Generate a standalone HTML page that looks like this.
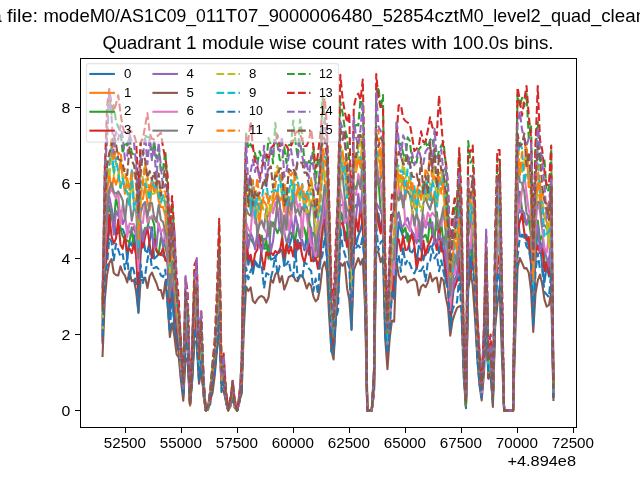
<!DOCTYPE html>
<html lang="en"><head><meta charset="utf-8"><title>Quadrant 1 module wise count rates</title>
<style>html,body{margin:0;padding:0;background:#fff;overflow:hidden}body{width:640px;height:480px;font-family:"Liberation Sans",sans-serif}svg{display:block;will-change:transform}text{font-family:"Liberation Sans",sans-serif;fill:#000}.ln{fill:none;stroke-width:2.083;stroke-linejoin:round}.so{stroke-linecap:square}.da{stroke-linecap:butt;stroke-dasharray:7.71 3.33}.tk{stroke:#000;stroke-width:1;fill:none;shape-rendering:crispEdges}</style></head><body>
<svg width="640" height="480" viewBox="0 0 640 480">
<rect x="0" y="0" width="640" height="480" fill="#ffffff"/>
<text y="22.30" font-size="17.80"><tspan x="-38.10" textLength="39.83" lengthAdjust="spacingAndGlyphs">Data</tspan> <tspan x="7.03" textLength="31.07" lengthAdjust="spacingAndGlyphs">file:</tspan> <tspan x="43.40" textLength="61.72" lengthAdjust="spacingAndGlyphs">modeM</tspan><tspan x="105.12" textLength="48.86" lengthAdjust="spacingAndGlyphs">0/AS1</tspan><tspan x="153.99" textLength="51.84" lengthAdjust="spacingAndGlyphs">C09_0</tspan><tspan x="205.83" textLength="52.66" lengthAdjust="spacingAndGlyphs">11T07</tspan><tspan x="258.49" textLength="50.81" lengthAdjust="spacingAndGlyphs">_9000</tspan><tspan x="309.30" textLength="53.08" lengthAdjust="spacingAndGlyphs">00648</tspan><tspan x="362.38" textLength="50.81" lengthAdjust="spacingAndGlyphs">0_528</tspan><tspan x="413.19" textLength="45.71" lengthAdjust="spacingAndGlyphs">54czt</tspan><tspan x="458.90" textLength="48.27" lengthAdjust="spacingAndGlyphs">M0_le</tspan><tspan x="507.17" textLength="43.75" lengthAdjust="spacingAndGlyphs">vel2_</tspan><tspan x="550.92" textLength="50.31" lengthAdjust="spacingAndGlyphs">quad_</tspan><tspan x="601.23" textLength="44.88" lengthAdjust="spacingAndGlyphs">clean</tspan><tspan x="646.11" textLength="31.99" lengthAdjust="spacingAndGlyphs">.evt</tspan></text>
<text y="48.90" font-size="17.80"><tspan x="102.41" textLength="51.20" lengthAdjust="spacingAndGlyphs">Quadr</tspan><tspan x="153.62" textLength="27.23" lengthAdjust="spacingAndGlyphs">ant</tspan> <tspan x="186.13" textLength="10.58" lengthAdjust="spacingAndGlyphs">1</tspan> <tspan x="201.99" textLength="62.31" lengthAdjust="spacingAndGlyphs">module</tspan> <tspan x="269.59" textLength="37.11" lengthAdjust="spacingAndGlyphs">wise</tspan> <tspan x="311.98" textLength="46.89" lengthAdjust="spacingAndGlyphs">count</tspan> <tspan x="364.15" textLength="42.44" lengthAdjust="spacingAndGlyphs">rates</tspan> <tspan x="411.87" textLength="35.27" lengthAdjust="spacingAndGlyphs">with</tspan> <tspan x="452.41" textLength="56.25" lengthAdjust="spacingAndGlyphs">100.0s</tspan> <tspan x="513.95" textLength="39.64" lengthAdjust="spacingAndGlyphs">bins.</tspan></text>
<g>
<polyline class="ln so" stroke="#1f77b4" points="102.55,343.32 104.79,267.91 107.03,242.78 109.27,231.96 111.52,208.94 113.76,221.10 116.00,234.79 118.25,232.80 120.49,228.58 122.73,229.17 124.98,234.96 127.22,259.91 129.46,242.17 131.71,245.66 133.95,235.32 136.19,250.24 138.44,302.29 140.68,253.74 142.92,233.20 145.17,250.60 147.41,252.09 149.65,241.60 151.90,227.28 154.14,258.65 156.38,256.79 158.63,253.57 160.87,253.12 163.11,255.73 165.36,257.91 167.60,262.57 169.84,315.06 172.09,293.42 174.33,322.73 176.57,343.98 178.82,352.06 181.06,370.61 183.30,397.25 185.55,332.98 187.79,349.11 190.03,404.11 192.28,378.49 194.52,327.48 196.76,333.86 199.01,379.07 201.25,360.88 203.49,389.74 205.74,410.40 207.98,409.05 210.22,398.63 212.47,381.34 214.71,368.46 216.95,338.79 219.20,299.71 221.44,379.08 223.68,371.85 225.93,401.74 228.17,410.40 230.41,403.79 232.66,390.97 234.90,407.06 237.14,410.40 239.39,401.66 241.63,383.93 243.87,295.66 246.12,245.79 248.36,264.77 250.60,255.03 252.85,273.67 255.09,261.06 257.33,266.35 259.58,267.42 261.82,244.89 264.06,248.17 266.31,248.49 268.55,245.57 270.79,259.66 273.04,258.69 275.28,257.35 277.52,253.55 279.77,249.12 282.01,250.47 284.25,265.84 286.50,246.02 288.74,247.59 290.98,240.16 293.23,230.99 295.47,257.94 297.71,239.96 299.96,248.58 302.20,240.11 304.44,250.32 306.69,236.10 308.93,254.73 311.17,236.08 313.42,261.47 315.66,259.75 317.90,263.16 320.15,264.67 322.39,228.69 324.63,225.20 326.88,255.96 329.12,292.47 331.36,337.26 333.60,352.46 335.85,315.47 338.09,283.72 340.33,212.20 342.58,219.51 344.82,240.54 347.06,231.97 349.31,257.38 351.55,306.91 353.79,223.02 356.04,244.69 358.28,235.73 360.52,230.22 362.77,219.56 365.01,279.48 367.25,410.40 369.50,410.40 371.74,410.40 373.98,391.61 376.23,212.67 378.47,213.71 380.71,229.09 382.96,227.43 385.20,317.67 387.44,358.18 389.69,319.29 391.93,285.74 394.17,298.93 396.42,255.58 398.66,222.17 400.90,230.16 403.15,237.29 405.39,237.84 407.63,233.41 409.88,251.15 412.12,252.46 414.36,247.91 416.61,262.20 418.85,245.72 421.09,249.30 423.34,260.14 425.58,251.07 427.82,252.63 430.07,246.29 432.31,246.48 434.55,239.76 436.80,240.61 439.04,253.32 441.28,239.56 443.53,253.77 445.77,281.98 448.01,276.53 450.26,328.14 452.50,299.49 454.74,279.09 456.99,275.04 459.23,261.02 461.47,289.39 463.72,367.19 465.96,408.17 468.20,241.46 470.45,268.17 472.69,243.97 474.93,288.71 477.18,346.52 479.42,366.83 481.66,393.58 483.91,351.81 486.15,312.47 488.39,371.45 490.64,370.93 492.88,403.78 495.12,310.87 497.37,268.36 499.61,267.62 501.85,326.45 504.10,410.40 506.34,410.40 508.58,410.40 510.83,410.40 513.07,410.40 515.31,287.80 517.56,211.66 519.80,236.19 522.04,236.69 524.29,235.06 526.53,234.90 528.77,247.49 531.02,257.09 533.26,307.20 535.50,257.82 537.75,227.83 539.99,242.05 542.23,267.50 544.48,282.09 546.72,265.67 548.96,276.58 551.21,249.09 553.45,396.33"/>
<polyline class="ln so" stroke="#ff7f0e" points="102.55,316.52 104.79,230.92 107.03,192.13 109.27,173.29 111.52,190.38 113.76,176.93 116.00,184.81 118.25,177.54 120.49,160.11 122.73,176.82 124.98,193.74 127.22,178.19 129.46,189.92 131.71,176.60 133.95,202.36 136.19,200.19 138.44,230.67 140.68,198.42 142.92,199.07 145.17,185.27 147.41,201.87 149.65,210.55 151.90,183.69 154.14,182.57 156.38,184.96 158.63,200.68 160.87,207.08 163.11,207.15 165.36,215.55 167.60,245.63 169.84,284.54 172.09,230.33 174.33,277.50 176.57,320.15 178.82,332.62 181.06,359.23 183.30,387.50 185.55,307.15 187.79,329.19 190.03,402.83 192.28,349.35 194.52,302.50 196.76,284.81 199.01,368.17 201.25,331.26 203.49,384.89 205.74,410.40 207.98,407.89 210.22,391.71 212.47,382.70 214.71,355.70 216.95,322.80 219.20,258.00 221.44,379.21 223.68,367.65 225.93,397.39 228.17,410.40 230.41,400.56 232.66,391.35 234.90,403.07 237.14,410.40 239.39,393.51 241.63,379.13 243.87,272.51 246.12,203.34 248.36,197.94 250.60,206.12 252.85,197.09 255.09,197.63 257.33,203.61 259.58,223.65 261.82,200.22 264.06,201.14 266.31,205.19 268.55,216.00 270.79,211.56 273.04,201.16 275.28,198.85 277.52,192.01 279.77,200.83 282.01,196.13 284.25,211.77 286.50,190.58 288.74,210.21 290.98,217.08 293.23,180.60 295.47,202.79 297.71,188.53 299.96,196.59 302.20,189.91 304.44,211.61 306.69,195.61 308.93,199.57 311.17,204.23 313.42,196.76 315.66,203.94 317.90,218.48 320.15,196.39 322.39,154.42 324.63,180.78 326.88,187.07 329.12,249.33 331.36,309.22 333.60,323.96 335.85,266.87 338.09,259.73 340.33,170.60 342.58,173.33 344.82,162.71 347.06,181.24 349.31,199.79 351.55,272.71 353.79,168.31 356.04,172.01 358.28,157.95 360.52,167.89 362.77,133.69 365.01,218.50 367.25,410.40 369.50,410.40 371.74,410.40 373.98,380.15 376.23,161.50 378.47,152.48 380.71,148.18 382.96,179.80 385.20,288.30 387.44,340.48 389.69,283.29 391.93,257.59 394.17,258.61 396.42,156.15 398.66,187.47 400.90,190.27 403.15,177.09 405.39,199.27 407.63,183.10 409.88,179.85 412.12,187.41 414.36,207.67 416.61,211.20 418.85,189.78 421.09,199.75 423.34,187.82 425.58,192.18 427.82,199.80 430.07,187.44 432.31,203.04 434.55,192.28 436.80,203.81 439.04,177.70 441.28,183.53 443.53,182.69 445.77,207.93 448.01,240.12 450.26,292.27 452.50,264.19 454.74,234.19 456.99,238.19 459.23,205.80 461.47,233.63 463.72,358.22 465.96,403.60 468.20,194.65 470.45,227.26 472.69,216.22 474.93,234.05 477.18,335.10 479.42,373.72 481.66,394.17 483.91,336.16 486.15,267.95 488.39,361.76 490.64,354.81 492.88,399.05 495.12,271.20 497.37,222.54 499.61,187.26 501.85,297.36 504.10,410.40 506.34,410.40 508.58,410.40 510.83,410.40 513.07,410.40 515.31,242.16 517.56,180.09 519.80,172.64 522.04,162.45 524.29,168.73 526.53,147.97 528.77,185.22 531.02,186.15 533.26,283.47 535.50,207.72 537.75,183.26 539.99,181.58 542.23,207.73 544.48,216.90 546.72,221.97 548.96,228.56 551.21,204.25 553.45,389.30"/>
<polyline class="ln so" stroke="#2ca02c" points="102.55,326.09 104.79,253.27 107.03,215.89 109.27,206.07 111.52,217.87 113.76,223.55 116.00,197.68 118.25,208.37 120.49,229.16 122.73,236.09 124.98,239.54 127.22,240.45 129.46,242.34 131.71,227.29 133.95,248.17 136.19,250.57 138.44,277.72 140.68,240.51 142.92,233.53 145.17,227.85 147.41,228.04 149.65,217.58 151.90,217.37 154.14,224.46 156.38,250.82 158.63,254.61 160.87,237.80 163.11,242.44 165.36,246.75 167.60,256.98 169.84,302.01 172.09,291.78 174.33,296.82 176.57,320.38 178.82,328.93 181.06,359.91 183.30,392.44 185.55,320.96 187.79,335.00 190.03,402.97 192.28,370.09 194.52,328.63 196.76,310.42 199.01,369.31 201.25,359.42 203.49,386.99 205.74,410.40 207.98,408.25 210.22,397.31 212.47,386.27 214.71,366.53 216.95,329.71 219.20,297.44 221.44,374.60 223.68,382.26 225.93,400.75 228.17,409.58 230.41,406.37 232.66,390.15 234.90,405.89 237.14,410.40 239.39,400.53 241.63,382.82 243.87,286.56 246.12,232.73 248.36,235.05 250.60,238.66 252.85,242.58 255.09,246.75 257.33,237.85 259.58,244.72 261.82,235.71 264.06,248.62 266.31,240.43 268.55,258.65 270.79,225.80 273.04,222.34 275.28,227.32 277.52,233.10 279.77,226.97 282.01,234.40 284.25,258.05 286.50,247.72 288.74,235.25 290.98,232.66 293.23,237.26 295.47,238.84 297.71,224.61 299.96,237.50 302.20,223.52 304.44,229.07 306.69,240.04 308.93,218.49 311.17,233.88 313.42,232.79 315.66,240.84 317.90,257.07 320.15,245.90 322.39,235.45 324.63,201.94 326.88,221.00 329.12,287.36 331.36,333.19 333.60,339.88 335.85,288.81 338.09,279.50 340.33,211.67 342.58,219.26 344.82,204.60 347.06,225.98 349.31,250.54 351.55,298.86 353.79,208.44 356.04,205.12 358.28,204.51 360.52,206.75 362.77,216.76 365.01,282.86 367.25,410.40 369.50,410.40 371.74,410.40 373.98,391.51 376.23,185.28 378.47,180.62 380.71,210.72 382.96,217.96 385.20,304.27 387.44,353.14 389.69,311.95 391.93,268.64 394.17,273.69 396.42,218.84 398.66,212.32 400.90,223.56 403.15,232.44 405.39,227.79 407.63,241.29 409.88,235.84 412.12,237.62 414.36,241.73 416.61,237.84 418.85,241.44 421.09,234.28 423.34,237.31 425.58,234.80 427.82,242.37 430.07,217.02 432.31,235.43 434.55,239.07 436.80,212.13 439.04,239.14 441.28,223.24 443.53,244.03 445.77,233.88 448.01,274.70 450.26,303.64 452.50,280.08 454.74,262.72 456.99,255.86 459.23,238.51 461.47,269.18 463.72,353.64 465.96,406.58 468.20,244.14 470.45,251.50 472.69,256.25 474.93,274.06 477.18,350.53 479.42,374.32 481.66,394.57 483.91,355.75 486.15,292.29 488.39,378.22 490.64,362.87 492.88,399.47 495.12,301.77 497.37,247.37 499.61,242.76 501.85,320.52 504.10,410.40 506.34,410.40 508.58,410.40 510.83,410.40 513.07,410.40 515.31,295.38 517.56,198.74 519.80,191.86 522.04,209.46 524.29,220.60 526.53,224.40 528.77,219.41 531.02,235.62 533.26,300.76 535.50,244.11 537.75,220.46 539.99,239.44 542.23,235.65 544.48,260.41 546.72,269.13 548.96,257.67 551.21,254.00 553.45,387.33"/>
<polyline class="ln so" stroke="#d62728" points="102.55,340.49 104.79,273.38 107.03,253.85 109.27,214.67 111.52,236.14 113.76,243.59 116.00,238.30 118.25,219.47 120.49,244.71 122.73,248.72 124.98,235.95 127.22,250.79 129.46,248.49 131.71,253.17 133.95,243.47 136.19,256.50 138.44,292.27 140.68,240.75 142.92,247.56 145.17,236.81 147.41,227.64 149.65,244.56 151.90,258.31 154.14,239.01 156.38,249.81 158.63,254.08 160.87,255.06 163.11,247.85 165.36,260.63 167.60,260.93 169.84,302.61 172.09,287.48 174.33,304.29 176.57,327.26 178.82,352.02 181.06,378.68 183.30,390.25 185.55,337.86 187.79,351.84 190.03,405.33 192.28,373.10 194.52,319.88 196.76,333.60 199.01,371.95 201.25,347.72 203.49,395.44 205.74,410.40 207.98,406.61 210.22,401.60 212.47,379.28 214.71,362.35 216.95,349.14 219.20,298.87 221.44,377.37 223.68,377.38 225.93,401.02 228.17,410.40 230.41,403.37 232.66,389.16 234.90,406.89 237.14,410.40 239.39,400.68 241.63,381.62 243.87,310.09 246.12,233.57 248.36,259.21 250.60,254.96 252.85,267.67 255.09,253.50 257.33,249.66 259.58,234.80 261.82,257.07 264.06,269.49 266.31,252.21 268.55,255.31 270.79,252.12 273.04,255.21 275.28,250.99 277.52,253.11 279.77,252.18 282.01,237.97 284.25,257.74 286.50,244.21 288.74,253.50 290.98,246.87 293.23,256.48 295.47,239.77 297.71,249.42 299.96,242.78 302.20,255.91 304.44,262.89 306.69,251.64 308.93,243.28 311.17,261.00 313.42,260.31 315.66,255.84 317.90,268.73 320.15,256.62 322.39,226.13 324.63,219.86 326.88,237.38 329.12,285.02 331.36,338.14 333.60,346.36 335.85,301.74 338.09,289.28 340.33,224.51 342.58,222.58 344.82,231.72 347.06,246.86 349.31,236.84 351.55,320.67 353.79,247.62 356.04,217.92 358.28,231.46 360.52,204.05 362.77,229.01 365.01,272.32 367.25,410.40 369.50,410.40 371.74,410.40 373.98,387.21 376.23,205.22 378.47,224.05 380.71,233.55 382.96,212.85 385.20,317.23 387.44,356.75 389.69,314.76 391.93,296.30 394.17,275.61 396.42,238.07 398.66,239.30 400.90,250.83 403.15,235.87 405.39,249.97 407.63,249.43 409.88,240.56 412.12,232.50 414.36,245.74 416.61,269.21 418.85,258.31 421.09,260.53 423.34,240.52 425.58,255.32 427.82,245.99 430.07,241.70 432.31,235.66 434.55,237.71 436.80,249.99 439.04,226.04 441.28,251.35 443.53,251.16 445.77,268.91 448.01,282.34 450.26,325.44 452.50,291.32 454.74,287.51 456.99,280.82 459.23,258.37 461.47,284.56 463.72,356.25 465.96,406.26 468.20,263.28 470.45,278.18 472.69,262.34 474.93,270.03 477.18,344.72 479.42,372.23 481.66,397.06 483.91,359.13 486.15,292.94 488.39,378.79 490.64,362.84 492.88,398.69 495.12,294.89 497.37,265.58 499.61,254.21 501.85,317.06 504.10,410.40 506.34,410.40 508.58,410.40 510.83,410.40 513.07,410.40 515.31,296.49 517.56,229.98 519.80,221.62 522.04,213.90 524.29,232.60 526.53,240.47 528.77,236.96 531.02,264.85 533.26,315.97 535.50,253.96 537.75,245.34 539.99,253.24 542.23,245.76 544.48,271.08 546.72,262.01 548.96,274.36 551.21,272.71 553.45,397.20"/>
<polyline class="ln so" stroke="#9467bd" points="102.55,330.45 104.79,249.21 107.03,216.34 109.27,196.39 111.52,207.79 113.76,234.69 116.00,210.79 118.25,215.90 120.49,210.73 122.73,224.03 124.98,218.76 127.22,228.60 129.46,232.16 131.71,231.71 133.95,226.69 136.19,236.26 138.44,254.46 140.68,223.61 142.92,241.16 145.17,230.05 147.41,227.34 149.65,226.75 151.90,232.17 154.14,247.61 156.38,247.03 158.63,223.22 160.87,232.96 163.11,247.56 165.36,232.24 167.60,257.33 169.84,297.61 172.09,278.21 174.33,293.64 176.57,315.30 178.82,332.64 181.06,364.07 183.30,389.82 185.55,332.04 187.79,338.80 190.03,402.98 192.28,356.78 194.52,316.32 196.76,311.71 199.01,370.87 201.25,359.29 203.49,394.04 205.74,410.40 207.98,407.33 210.22,401.65 212.47,382.24 214.71,373.09 216.95,339.56 219.20,287.30 221.44,378.02 223.68,376.49 225.93,399.60 228.17,409.53 230.41,402.25 232.66,395.19 234.90,403.20 237.14,410.40 239.39,402.70 241.63,383.54 243.87,294.30 246.12,226.73 248.36,248.21 250.60,232.89 252.85,238.36 255.09,249.40 257.33,232.66 259.58,246.78 261.82,251.63 264.06,238.84 266.31,239.34 268.55,222.00 270.79,251.58 273.04,241.34 275.28,221.23 277.52,208.76 279.77,229.89 282.01,230.96 284.25,232.31 286.50,241.95 288.74,241.88 290.98,215.60 293.23,234.07 295.47,215.22 297.71,226.04 299.96,236.63 302.20,242.95 304.44,247.34 306.69,249.56 308.93,240.01 311.17,227.39 313.42,254.52 315.66,255.91 317.90,253.46 320.15,225.56 322.39,224.20 324.63,204.43 326.88,235.93 329.12,271.24 331.36,318.41 333.60,334.61 335.85,298.68 338.09,264.01 340.33,205.37 342.58,204.68 344.82,201.48 347.06,220.60 349.31,229.02 351.55,304.10 353.79,219.35 356.04,217.33 358.28,193.87 360.52,213.01 362.77,181.23 365.01,252.12 367.25,410.40 369.50,410.40 371.74,410.40 373.98,390.23 376.23,202.92 378.47,206.81 380.71,210.64 382.96,216.39 385.20,316.65 387.44,356.67 389.69,313.72 391.93,275.55 394.17,269.08 396.42,218.68 398.66,213.40 400.90,226.57 403.15,226.54 405.39,221.14 407.63,217.97 409.88,226.81 412.12,231.46 414.36,234.98 416.61,243.41 418.85,229.63 421.09,246.81 423.34,222.15 425.58,227.73 427.82,222.40 430.07,227.06 432.31,222.29 434.55,244.20 436.80,242.21 439.04,233.73 441.28,240.33 443.53,238.77 445.77,258.39 448.01,271.48 450.26,304.22 452.50,291.31 454.74,279.34 456.99,276.84 459.23,233.53 461.47,273.24 463.72,363.37 465.96,404.58 468.20,257.29 470.45,247.39 472.69,232.81 474.93,272.53 477.18,352.83 479.42,380.96 481.66,396.16 483.91,358.83 486.15,292.23 488.39,369.09 490.64,367.49 492.88,399.36 495.12,280.18 497.37,249.89 499.61,230.48 501.85,327.60 504.10,410.40 506.34,410.40 508.58,410.40 510.83,410.40 513.07,410.40 515.31,293.01 517.56,183.20 519.80,212.83 522.04,209.83 524.29,213.32 526.53,225.10 528.77,215.68 531.02,219.23 533.26,310.66 535.50,235.17 537.75,224.68 539.99,251.83 542.23,243.05 544.48,251.24 546.72,258.14 548.96,266.24 551.21,223.89 553.45,392.75"/>
<polyline class="ln so" stroke="#8c564b" points="102.55,356.00 104.79,300.00 107.03,275.00 109.27,263.00 111.52,259.00 113.76,273.00 116.00,275.00 118.25,275.60 120.49,266.20 122.73,272.50 124.98,275.60 127.22,282.50 129.46,271.20 131.71,281.20 133.95,280.00 136.19,292.00 138.44,313.00 140.68,280.00 142.92,280.00 145.17,277.50 147.41,288.00 149.65,276.20 151.90,272.50 154.14,278.00 156.38,283.00 158.63,290.00 160.87,290.00 163.11,298.70 165.36,281.20 167.60,303.43 169.84,336.96 172.09,323.19 174.33,335.84 176.57,354.20 178.82,357.71 181.06,381.71 183.30,400.80 185.55,357.75 187.79,362.58 190.03,405.52 192.28,379.28 194.52,341.26 196.76,342.47 199.01,383.79 201.25,371.47 203.49,391.25 205.74,410.40 207.98,409.45 210.22,399.96 212.47,393.25 214.71,375.93 216.95,349.94 219.20,329.52 221.44,387.10 223.68,391.94 225.93,400.01 228.17,409.81 230.41,404.59 232.66,398.72 234.90,408.06 237.14,410.40 239.39,399.47 241.63,394.16 243.87,327.97 246.12,286.54 248.36,291.04 250.60,287.43 252.85,300.68 255.09,303.17 257.33,299.33 259.58,296.80 261.82,296.04 264.06,297.69 266.31,302.56 268.55,297.25 270.79,279.30 273.04,282.70 275.28,274.52 277.52,271.23 279.77,282.24 282.01,275.96 284.25,289.49 286.50,283.86 288.74,277.02 290.98,275.84 293.23,275.38 295.47,280.48 297.71,281.35 299.96,276.05 302.20,275.30 304.44,280.94 306.69,288.55 308.93,283.25 311.17,285.90 313.42,296.31 315.66,301.37 317.90,298.98 320.15,287.50 322.39,267.70 324.63,261.75 326.88,271.48 329.12,316.00 331.36,350.00 333.60,359.50 335.85,318.00 338.09,292.00 340.33,262.97 342.58,265.88 344.82,262.29 347.06,288.18 349.31,300.11 351.55,329.97 353.79,270.14 356.04,264.23 358.28,258.10 360.52,264.73 362.77,258.70 365.01,306.62 367.25,410.40 369.50,410.40 371.74,410.40 373.98,393.72 376.23,251.90 378.47,252.20 380.71,262.18 382.96,256.00 385.20,338.31 387.44,369.12 389.69,338.49 391.93,320.46 394.17,321.58 396.42,261.00 398.66,275.25 400.90,279.62 403.15,276.67 405.39,276.59 407.63,282.58 409.88,280.41 412.12,280.00 414.36,278.76 416.61,281.77 418.85,295.30 421.09,286.68 423.34,284.59 425.58,287.27 427.82,282.58 430.07,273.00 432.31,281.41 434.55,278.49 436.80,277.56 439.04,292.25 441.28,277.68 443.53,280.58 445.77,296.70 448.01,307.75 450.26,335.63 452.50,321.00 454.74,313.89 456.99,308.04 459.23,306.19 461.47,307.33 463.72,377.79 465.96,406.78 468.20,290.00 470.45,273.00 472.69,285.00 474.93,316.87 477.18,354.99 479.42,384.68 481.66,400.40 483.91,374.37 486.15,328.86 488.39,377.16 490.64,370.88 492.88,407.02 495.12,327.13 497.37,304.42 499.61,286.51 501.85,354.27 504.10,410.40 506.34,410.40 508.58,410.40 510.83,410.40 513.07,410.40 515.31,334.75 517.56,267.79 519.80,258.00 522.04,262.95 524.29,268.39 526.53,268.16 528.77,272.80 531.02,290.12 533.26,332.00 535.50,293.54 537.75,280.45 539.99,274.60 542.23,284.34 544.48,299.63 546.72,306.61 548.96,305.01 551.21,292.00 553.45,400.06"/>
<polyline class="ln so" stroke="#e377c2" points="102.55,326.56 104.79,251.08 107.03,194.24 109.27,194.11 111.52,188.64 113.76,193.76 116.00,198.34 118.25,191.46 120.49,224.68 122.73,204.29 124.98,213.43 127.22,237.39 129.46,223.59 131.71,224.08 133.95,224.13 136.19,229.84 138.44,271.00 140.68,220.99 142.92,222.98 145.17,202.44 147.41,222.47 149.65,218.86 151.90,215.88 154.14,219.26 156.38,216.98 158.63,226.45 160.87,231.94 163.11,228.98 165.36,237.89 167.60,250.10 169.84,285.23 172.09,274.33 174.33,286.94 176.57,310.28 178.82,327.78 181.06,368.08 183.30,385.04 185.55,315.18 187.79,325.46 190.03,402.79 192.28,362.32 194.52,304.51 196.76,310.31 199.01,361.48 201.25,339.88 203.49,384.86 205.74,410.40 207.98,407.26 210.22,393.90 212.47,379.42 214.71,358.59 216.95,332.25 219.20,289.20 221.44,380.12 223.68,362.60 225.93,399.86 228.17,409.94 230.41,402.26 232.66,386.88 234.90,407.07 237.14,410.40 239.39,395.23 241.63,380.35 243.87,279.19 246.12,222.57 248.36,229.32 250.60,232.43 252.85,204.94 255.09,223.14 257.33,225.47 259.58,225.43 261.82,220.36 264.06,228.19 266.31,232.59 268.55,231.08 270.79,204.94 273.04,213.30 275.28,201.97 277.52,209.74 279.77,207.78 282.01,213.71 284.25,235.33 286.50,206.68 288.74,229.93 290.98,218.69 293.23,197.26 295.47,196.72 297.71,207.15 299.96,203.72 302.20,237.35 304.44,201.36 306.69,216.63 308.93,231.50 311.17,245.64 313.42,246.38 315.66,256.19 317.90,216.61 320.15,232.97 322.39,215.32 324.63,191.92 326.88,213.64 329.12,255.71 331.36,328.05 333.60,323.82 335.85,300.67 338.09,262.98 340.33,189.40 342.58,199.62 344.82,222.95 347.06,219.42 349.31,217.78 351.55,299.70 353.79,192.32 356.04,194.93 358.28,173.99 360.52,181.42 362.77,190.92 365.01,247.78 367.25,410.40 369.50,410.40 371.74,410.40 373.98,390.62 376.23,156.61 378.47,176.67 380.71,182.99 382.96,210.95 385.20,297.80 387.44,346.51 389.69,312.49 391.93,264.34 394.17,274.86 396.42,200.63 398.66,188.80 400.90,199.31 403.15,195.22 405.39,223.76 407.63,226.63 409.88,231.26 412.12,212.56 414.36,218.03 416.61,238.38 418.85,219.58 421.09,225.50 423.34,214.57 425.58,226.44 427.82,212.63 430.07,217.30 432.31,212.67 434.55,215.77 436.80,218.17 439.04,220.92 441.28,225.99 443.53,209.56 445.77,230.21 448.01,260.20 450.26,309.96 452.50,268.17 454.74,275.02 456.99,247.48 459.23,226.97 461.47,255.67 463.72,360.15 465.96,402.98 468.20,242.52 470.45,248.08 472.69,210.78 474.93,266.01 477.18,347.76 479.42,366.91 481.66,395.05 483.91,362.80 486.15,293.80 488.39,366.00 490.64,348.72 492.88,399.33 495.12,293.12 497.37,246.82 499.61,231.69 501.85,308.95 504.10,410.40 506.34,410.40 508.58,410.40 510.83,410.40 513.07,410.40 515.31,269.82 517.56,203.92 519.80,208.31 522.04,190.17 524.29,175.02 526.53,193.16 528.77,210.32 531.02,218.70 533.26,289.17 535.50,225.11 537.75,202.35 539.99,211.61 542.23,230.23 544.48,247.71 546.72,252.62 548.96,234.90 551.21,240.15 553.45,392.38"/>
<polyline class="ln so" stroke="#7f7f7f" points="102.55,334.06 104.79,235.78 107.03,206.62 109.27,189.51 111.52,182.80 113.76,192.03 116.00,193.74 118.25,191.45 120.49,195.02 122.73,200.71 124.98,220.20 127.22,199.10 129.46,197.10 131.71,220.70 133.95,209.05 136.19,210.21 138.44,258.44 140.68,212.54 142.92,204.95 145.17,201.98 147.41,217.50 149.65,203.07 151.90,202.94 154.14,217.26 156.38,222.15 158.63,205.09 160.87,219.91 163.11,222.09 165.36,232.06 167.60,239.76 169.84,295.77 172.09,260.84 174.33,287.99 176.57,317.45 178.82,337.39 181.06,373.69 183.30,389.96 185.55,311.04 187.79,315.75 190.03,402.99 192.28,363.64 194.52,308.88 196.76,289.83 199.01,371.40 201.25,330.71 203.49,385.22 205.74,410.40 207.98,408.51 210.22,391.40 212.47,380.98 214.71,360.06 216.95,319.69 219.20,287.91 221.44,383.31 223.68,364.65 225.93,393.45 228.17,409.87 230.41,406.58 232.66,390.30 234.90,407.96 237.14,410.40 239.39,400.62 241.63,374.80 243.87,286.78 246.12,208.45 248.36,214.05 250.60,215.57 252.85,200.05 255.09,201.92 257.33,236.01 259.58,223.14 261.82,221.54 264.06,228.20 266.31,208.98 268.55,236.09 270.79,221.64 273.04,226.50 275.28,226.86 277.52,196.13 279.77,204.14 282.01,235.04 284.25,215.21 286.50,229.84 288.74,197.71 290.98,209.89 293.23,193.65 295.47,213.40 297.71,208.74 299.96,215.76 302.20,206.97 304.44,210.92 306.69,206.57 308.93,220.98 311.17,203.62 313.42,206.95 315.66,251.10 317.90,234.25 320.15,224.48 322.39,207.24 324.63,184.94 326.88,198.80 329.12,264.68 331.36,314.22 333.60,337.31 335.85,300.06 338.09,256.87 340.33,179.77 342.58,174.79 344.82,198.06 347.06,209.42 349.31,212.90 351.55,292.16 353.79,184.68 356.04,188.89 358.28,180.08 360.52,189.11 362.77,155.23 365.01,266.26 367.25,410.40 369.50,410.40 371.74,410.40 373.98,375.34 376.23,161.84 378.47,184.70 380.71,178.32 382.96,172.33 385.20,292.96 387.44,342.63 389.69,294.16 391.93,258.77 394.17,259.62 396.42,194.48 398.66,200.51 400.90,192.00 403.15,207.52 405.39,193.29 407.63,191.07 409.88,195.35 412.12,209.34 414.36,225.37 416.61,212.95 418.85,222.71 421.09,234.90 423.34,203.14 425.58,197.91 427.82,204.79 430.07,209.55 432.31,199.84 434.55,198.26 436.80,230.09 439.04,226.87 441.28,218.02 443.53,206.78 445.77,233.26 448.01,249.18 450.26,295.45 452.50,261.91 454.74,254.91 456.99,264.36 459.23,218.50 461.47,258.48 463.72,348.75 465.96,400.72 468.20,237.05 470.45,221.91 472.69,207.47 474.93,264.25 477.18,335.33 479.42,366.02 481.66,389.96 483.91,343.73 486.15,272.36 488.39,367.79 490.64,356.74 492.88,400.00 495.12,292.19 497.37,220.64 499.61,221.80 501.85,318.98 504.10,410.40 506.34,410.40 508.58,410.40 510.83,410.40 513.07,410.40 515.31,262.30 517.56,158.88 519.80,181.92 522.04,182.85 524.29,191.71 526.53,212.90 528.77,217.39 531.02,216.67 533.26,296.64 535.50,212.13 537.75,201.89 539.99,202.10 542.23,226.59 544.48,225.07 546.72,228.71 548.96,235.82 551.21,216.13 553.45,392.09"/>
<polyline class="ln da" stroke="#bcbd22" points="102.55,328.67 104.79,207.49 107.03,165.50 109.27,177.30 111.52,153.22 113.76,175.45 116.00,162.14 118.25,168.90 120.49,189.99 122.73,174.65 124.98,178.54 127.22,181.28 129.46,204.65 131.71,179.74 133.95,195.33 136.19,205.25 138.44,228.96 140.68,199.75 142.92,174.56 145.17,164.64 147.41,198.44 149.65,189.80 151.90,194.08 154.14,193.51 156.38,191.64 158.63,189.04 160.87,202.96 163.11,194.11 165.36,203.88 167.60,225.92 169.84,272.20 172.09,231.17 174.33,266.43 176.57,302.64 178.82,326.59 181.06,359.46 183.30,385.91 185.55,294.03 187.79,318.33 190.03,404.37 192.28,354.77 194.52,296.97 196.76,288.72 199.01,364.66 201.25,337.21 203.49,391.35 205.74,410.40 207.98,408.46 210.22,393.88 212.47,375.11 214.71,360.57 216.95,314.81 219.20,254.92 221.44,366.06 223.68,361.23 225.93,401.29 228.17,410.27 230.41,402.43 232.66,379.91 234.90,406.41 237.14,410.40 239.39,397.32 241.63,375.07 243.87,266.60 246.12,178.23 248.36,203.79 250.60,191.84 252.85,200.82 255.09,209.45 257.33,217.65 259.58,196.73 261.82,202.94 264.06,211.92 266.31,219.72 268.55,198.51 270.79,213.49 273.04,191.32 275.28,172.27 277.52,165.91 279.77,174.28 282.01,196.31 284.25,184.73 286.50,199.57 288.74,189.57 290.98,199.73 293.23,185.51 295.47,171.32 297.71,179.65 299.96,201.56 302.20,192.72 304.44,200.92 306.69,212.27 308.93,210.98 311.17,177.99 313.42,196.15 315.66,233.41 317.90,221.70 320.15,192.69 322.39,176.83 324.63,172.50 326.88,183.97 329.12,253.87 331.36,315.04 333.60,322.40 335.85,267.99 338.09,230.54 340.33,172.12 342.58,150.43 344.82,173.01 347.06,195.14 349.31,188.46 351.55,286.86 353.79,156.14 356.04,170.23 358.28,148.06 360.52,139.72 362.77,163.89 365.01,227.77 367.25,410.40 369.50,410.40 371.74,410.40 373.98,381.33 376.23,156.95 378.47,157.01 380.71,173.49 382.96,160.83 385.20,296.97 387.44,321.61 389.69,298.84 391.93,249.26 394.17,235.25 396.42,162.79 398.66,170.81 400.90,189.84 403.15,158.02 405.39,178.18 407.63,171.98 409.88,182.55 412.12,213.66 414.36,209.00 416.61,187.56 418.85,201.69 421.09,211.29 423.34,203.31 425.58,185.31 427.82,199.48 430.07,183.42 432.31,185.01 434.55,166.32 436.80,207.96 439.04,190.81 441.28,167.38 443.53,195.59 445.77,218.25 448.01,229.52 450.26,276.26 452.50,258.18 454.74,248.32 456.99,237.70 459.23,201.86 461.47,251.81 463.72,348.54 465.96,402.49 468.20,220.08 470.45,195.33 472.69,215.60 474.93,262.86 477.18,328.56 479.42,356.34 481.66,389.08 483.91,347.30 486.15,252.20 488.39,372.13 490.64,354.16 492.88,399.42 495.12,271.90 497.37,212.67 499.61,204.43 501.85,306.89 504.10,410.40 506.34,410.40 508.58,410.40 510.83,410.40 513.07,410.40 515.31,241.39 517.56,135.85 519.80,168.73 522.04,171.85 524.29,161.62 526.53,154.97 528.77,167.91 531.02,198.18 533.26,266.94 535.50,204.35 537.75,194.79 539.99,190.97 542.23,201.66 544.48,210.76 546.72,223.72 548.96,247.79 551.21,183.39 553.45,391.45"/>
<polyline class="ln da" stroke="#17becf" points="102.55,308.92 104.79,207.97 107.03,171.36 109.27,164.39 111.52,146.67 113.76,172.45 116.00,157.57 118.25,173.22 120.49,187.75 122.73,178.52 124.98,189.38 127.22,192.03 129.46,205.25 131.71,168.65 133.95,209.40 136.19,200.53 138.44,247.15 140.68,181.52 142.92,184.86 145.17,183.48 147.41,188.57 149.65,200.37 151.90,178.29 154.14,191.09 156.38,180.85 158.63,194.50 160.87,202.55 163.11,195.69 165.36,204.71 167.60,225.15 169.84,265.85 172.09,235.47 174.33,259.52 176.57,303.45 178.82,313.86 181.06,361.50 183.30,387.47 185.55,308.94 187.79,323.05 190.03,402.58 192.28,354.30 194.52,298.27 196.76,301.88 199.01,362.96 201.25,330.71 203.49,377.08 205.74,410.40 207.98,409.12 210.22,394.38 212.47,368.72 214.71,352.69 216.95,316.25 219.20,251.15 221.44,370.97 223.68,365.93 225.93,394.56 228.17,409.86 230.41,402.40 232.66,385.53 234.90,400.74 237.14,410.40 239.39,402.11 241.63,372.26 243.87,241.80 246.12,184.04 248.36,183.08 250.60,210.83 252.85,180.59 255.09,219.06 257.33,193.16 259.58,210.62 261.82,199.55 264.06,183.66 266.31,181.91 268.55,200.91 270.79,192.22 273.04,191.19 275.28,190.02 277.52,193.53 279.77,175.03 282.01,194.38 284.25,187.07 286.50,206.36 288.74,194.29 290.98,180.10 293.23,201.39 295.47,175.75 297.71,180.29 299.96,194.98 302.20,183.95 304.44,207.34 306.69,190.08 308.93,198.03 311.17,193.41 313.42,195.52 315.66,209.12 317.90,218.00 320.15,209.13 322.39,169.55 324.63,156.45 326.88,160.30 329.12,239.67 331.36,310.75 333.60,325.59 335.85,269.38 338.09,239.09 340.33,147.58 342.58,172.78 344.82,167.16 347.06,197.96 349.31,189.11 351.55,265.98 353.79,158.29 356.04,154.18 358.28,151.83 360.52,158.60 362.77,169.11 365.01,224.43 367.25,410.40 369.50,410.40 371.74,410.40 373.98,374.20 376.23,150.33 378.47,155.81 380.71,151.86 382.96,160.58 385.20,286.99 387.44,341.60 389.69,287.31 391.93,246.05 394.17,243.55 396.42,164.07 398.66,165.95 400.90,171.76 403.15,171.56 405.39,193.69 407.63,167.38 409.88,163.62 412.12,201.46 414.36,186.22 416.61,212.19 418.85,190.31 421.09,192.31 423.34,183.16 425.58,194.21 427.82,176.99 430.07,200.18 432.31,180.19 434.55,189.99 436.80,206.38 439.04,177.25 441.28,186.40 443.53,174.21 445.77,203.54 448.01,237.71 450.26,277.48 452.50,272.64 454.74,242.50 456.99,226.20 459.23,202.18 461.47,242.29 463.72,361.75 465.96,406.57 468.20,197.09 470.45,221.05 472.69,180.41 474.93,239.25 477.18,319.03 479.42,366.60 481.66,387.08 483.91,350.62 486.15,255.19 488.39,371.12 490.64,351.35 492.88,397.80 495.12,263.11 497.37,190.20 499.61,218.38 501.85,301.58 504.10,410.40 506.34,410.40 508.58,410.40 510.83,410.40 513.07,410.40 515.31,251.21 517.56,159.19 519.80,141.03 522.04,148.99 524.29,183.38 526.53,172.38 528.77,172.15 531.02,176.56 533.26,286.56 535.50,201.46 537.75,150.19 539.99,198.83 542.23,202.77 544.48,237.24 546.72,233.44 548.96,231.75 551.21,224.96 553.45,387.30"/>
<polyline class="ln da" stroke="#1f77b4" points="102.55,337.13 104.79,274.41 107.03,265.33 109.27,238.23 111.52,241.68 113.76,260.26 116.00,243.78 118.25,249.73 120.49,256.88 122.73,254.02 124.98,269.27 127.22,257.89 129.46,279.37 131.71,265.33 133.95,270.83 136.19,284.68 138.44,311.91 140.68,264.35 142.92,282.94 145.17,275.05 147.41,259.93 149.65,249.63 151.90,268.36 154.14,267.94 156.38,266.85 158.63,269.14 160.87,275.32 163.11,276.90 165.36,269.68 167.60,304.61 169.84,332.37 172.09,292.68 174.33,327.89 176.57,337.22 178.82,346.63 181.06,373.97 183.30,395.41 185.55,340.52 187.79,354.53 190.03,406.33 192.28,371.93 194.52,328.53 196.76,345.12 199.01,379.85 201.25,361.21 203.49,391.63 205.74,410.40 207.98,407.26 210.22,404.35 212.47,383.27 214.71,371.11 216.95,345.23 219.20,315.34 221.44,392.08 223.68,377.76 225.93,402.16 228.17,410.40 230.41,403.33 232.66,396.80 234.90,406.70 237.14,410.40 239.39,400.12 241.63,394.06 243.87,310.98 246.12,267.70 248.36,279.19 250.60,270.66 252.85,266.62 255.09,261.63 257.33,264.48 259.58,267.65 261.82,266.77 264.06,288.31 266.31,273.18 268.55,274.45 270.79,278.25 273.04,269.53 275.28,255.57 277.52,274.55 279.77,265.70 282.01,265.76 284.25,264.63 286.50,264.54 288.74,260.63 290.98,273.21 293.23,276.78 295.47,250.57 297.71,278.86 299.96,275.15 302.20,278.31 304.44,262.68 306.69,263.97 308.93,268.60 311.17,270.93 313.42,291.34 315.66,278.65 317.90,293.95 320.15,261.54 322.39,255.52 324.63,237.39 326.88,256.70 329.12,296.11 331.36,351.63 333.60,352.95 335.85,319.52 338.09,310.33 340.33,227.94 342.58,246.67 344.82,254.14 347.06,261.48 349.31,267.98 351.55,328.93 353.79,245.45 356.04,247.84 358.28,245.27 360.52,248.30 362.77,235.00 365.01,274.71 367.25,410.40 369.50,410.40 371.74,410.40 373.98,389.04 376.23,224.62 378.47,250.55 380.71,242.24 382.96,239.93 385.20,334.09 387.44,353.88 389.69,331.59 391.93,292.25 394.17,298.30 396.42,263.54 398.66,255.11 400.90,271.76 403.15,247.39 405.39,264.44 407.63,259.61 409.88,263.76 412.12,269.83 414.36,273.43 416.61,267.87 418.85,270.87 421.09,270.83 423.34,266.49 425.58,281.15 427.82,261.46 430.07,260.81 432.31,248.17 434.55,258.45 436.80,254.06 439.04,271.21 441.28,260.32 443.53,272.12 445.77,281.54 448.01,289.69 450.26,329.50 452.50,309.38 454.74,304.56 456.99,302.32 459.23,276.66 461.47,311.33 463.72,370.27 465.96,406.23 468.20,276.52 470.45,264.00 472.69,269.08 474.93,288.56 477.18,358.38 479.42,382.15 481.66,397.68 483.91,361.71 486.15,321.97 488.39,373.67 490.64,377.83 492.88,399.90 495.12,323.81 497.37,272.16 499.61,279.86 501.85,336.22 504.10,410.40 506.34,410.40 508.58,410.40 510.83,410.40 513.07,410.40 515.31,309.26 517.56,256.20 519.80,237.75 522.04,234.51 524.29,237.24 526.53,246.41 528.77,249.72 531.02,261.59 533.26,326.27 535.50,271.98 537.75,253.25 539.99,269.50 542.23,269.66 544.48,292.16 546.72,294.51 548.96,297.22 551.21,271.69 553.45,396.70"/>
<polyline class="ln da" stroke="#ff7f0e" points="102.55,299.53 104.79,213.64 107.03,163.08 109.27,161.68 111.52,138.29 113.76,160.83 116.00,148.50 118.25,154.30 120.49,151.68 122.73,169.61 124.98,169.14 127.22,185.45 129.46,186.97 131.71,172.23 133.95,171.11 136.19,185.33 138.44,239.46 140.68,194.97 142.92,185.14 145.17,163.35 147.41,175.34 149.65,191.72 151.90,182.14 154.14,191.31 156.38,187.86 158.63,180.70 160.87,192.02 163.11,189.42 165.36,192.16 167.60,222.31 169.84,265.18 172.09,235.61 174.33,263.58 176.57,303.74 178.82,323.66 181.06,368.91 183.30,379.93 185.55,301.98 187.79,303.91 190.03,405.37 192.28,345.54 194.52,301.02 196.76,277.33 199.01,352.27 201.25,333.71 203.49,386.42 205.74,410.40 207.98,409.48 210.22,395.52 212.47,369.36 214.71,353.77 216.95,310.15 219.20,237.93 221.44,381.22 223.68,357.09 225.93,389.76 228.17,410.37 230.41,405.49 232.66,385.59 234.90,404.69 237.14,410.40 239.39,398.14 241.63,377.22 243.87,260.51 246.12,186.91 248.36,189.49 250.60,191.15 252.85,180.26 255.09,197.37 257.33,178.10 259.58,203.73 261.82,208.44 264.06,193.60 266.31,193.79 268.55,202.88 270.79,195.00 273.04,198.04 275.28,185.82 277.52,170.54 279.77,173.92 282.01,180.60 284.25,183.40 286.50,194.91 288.74,172.75 290.98,175.43 293.23,170.96 295.47,181.28 297.71,185.90 299.96,192.11 302.20,184.96 304.44,195.61 306.69,201.69 308.93,186.55 311.17,179.48 313.42,196.73 315.66,197.21 317.90,211.02 320.15,198.59 322.39,142.14 324.63,160.10 326.88,173.35 329.12,238.08 331.36,309.55 333.60,318.96 335.85,277.21 338.09,235.61 340.33,144.71 342.58,152.90 344.82,163.65 347.06,158.02 349.31,198.61 351.55,261.98 353.79,149.70 356.04,168.39 358.28,158.33 360.52,162.78 362.77,159.86 365.01,240.46 367.25,410.40 369.50,410.40 371.74,410.40 373.98,378.43 376.23,134.06 378.47,129.49 380.71,175.61 382.96,134.48 385.20,290.23 387.44,332.77 389.69,293.25 391.93,237.10 394.17,233.70 396.42,183.20 398.66,172.15 400.90,177.74 403.15,178.48 405.39,182.15 407.63,183.65 409.88,190.98 412.12,180.73 414.36,198.37 416.61,193.89 418.85,180.35 421.09,189.07 423.34,194.15 425.58,168.13 427.82,174.97 430.07,152.86 432.31,180.59 434.55,176.64 436.80,181.16 439.04,172.47 441.28,193.71 443.53,182.97 445.77,229.88 448.01,211.32 450.26,276.43 452.50,259.09 454.74,229.21 456.99,249.92 459.23,219.00 461.47,245.73 463.72,348.42 465.96,405.01 468.20,176.84 470.45,203.54 472.69,188.38 474.93,233.74 477.18,331.75 479.42,353.15 481.66,382.94 483.91,341.05 486.15,259.70 488.39,352.06 490.64,349.71 492.88,397.40 495.12,271.05 497.37,176.84 499.61,189.98 501.85,290.72 504.10,410.40 506.34,410.40 508.58,410.40 510.83,410.40 513.07,410.40 515.31,267.42 517.56,149.56 519.80,174.88 522.04,152.21 524.29,150.07 526.53,143.32 528.77,187.25 531.02,187.05 533.26,279.74 535.50,194.04 537.75,165.58 539.99,202.89 542.23,191.28 544.48,199.82 546.72,202.07 548.96,213.08 551.21,185.29 553.45,385.26"/>
<polyline class="ln da" stroke="#2ca02c" points="102.55,300.75 104.79,166.48 107.03,140.43 109.27,94.39 111.52,113.99 113.76,105.16 116.00,121.42 118.25,127.23 120.49,131.22 122.73,153.48 124.98,142.00 127.22,145.33 129.46,137.07 131.71,152.89 133.95,154.81 136.19,155.78 138.44,211.94 140.68,143.40 142.92,138.75 145.17,135.72 147.41,137.02 149.65,137.39 151.90,157.82 154.14,141.47 156.38,158.22 158.63,146.62 160.87,172.35 163.11,168.99 165.36,150.69 167.60,189.69 169.84,226.10 172.09,202.37 174.33,235.02 176.57,293.16 178.82,312.98 181.06,341.51 183.30,379.81 185.55,291.68 187.79,301.84 190.03,399.10 192.28,347.98 194.52,270.77 196.76,268.42 199.01,347.43 201.25,317.01 203.49,380.94 205.74,410.40 207.98,409.66 210.22,389.45 212.47,361.51 214.71,344.05 216.95,311.70 219.20,224.15 221.44,367.29 223.68,364.46 225.93,389.38 228.17,410.34 230.41,396.93 232.66,390.36 234.90,406.61 237.14,410.40 239.39,398.22 241.63,359.96 243.87,218.40 246.12,133.55 248.36,148.54 250.60,144.20 252.85,148.58 255.09,153.47 257.33,163.57 259.58,151.16 261.82,159.54 264.06,165.49 266.31,162.89 268.55,138.07 270.79,144.36 273.04,163.47 275.28,122.89 277.52,144.80 279.77,159.79 282.01,160.95 284.25,147.24 286.50,163.01 288.74,145.23 290.98,144.55 293.23,120.57 295.47,141.16 297.71,157.96 299.96,119.55 302.20,134.52 304.44,162.12 306.69,166.39 308.93,160.86 311.17,164.00 313.42,146.80 315.66,183.70 317.90,157.60 320.15,167.16 322.39,96.73 324.63,118.25 326.88,144.52 329.12,210.02 331.36,301.82 333.60,309.97 335.85,263.67 338.09,184.06 340.33,101.96 342.58,112.72 344.82,128.76 347.06,137.30 349.31,161.03 351.55,228.01 353.79,127.69 356.04,125.05 358.28,125.35 360.52,99.35 362.77,105.84 365.01,188.70 367.25,410.40 369.50,410.40 371.74,410.40 373.98,372.27 376.23,94.70 378.47,86.94 380.71,109.12 382.96,95.08 385.20,270.22 387.44,333.54 389.69,252.57 391.93,215.92 394.17,208.15 396.42,130.52 398.66,143.49 400.90,143.88 403.15,153.12 405.39,160.80 407.63,137.34 409.88,141.13 412.12,162.46 414.36,164.54 416.61,162.25 418.85,149.30 421.09,146.70 423.34,146.21 425.58,141.95 427.82,147.41 430.07,139.79 432.31,137.71 434.55,153.92 436.80,159.79 439.04,150.96 441.28,145.67 443.53,142.03 445.77,164.30 448.01,212.56 450.26,246.40 452.50,240.35 454.74,199.20 456.99,213.95 459.23,152.07 461.47,215.37 463.72,333.08 465.96,404.54 468.20,141.00 470.45,162.66 472.69,158.88 474.93,210.44 477.18,312.79 479.42,359.95 481.66,386.31 483.91,331.63 486.15,249.50 488.39,353.82 490.64,344.97 492.88,398.56 495.12,239.33 497.37,158.60 499.61,159.85 501.85,294.13 504.10,410.40 506.34,410.40 508.58,410.40 510.83,410.40 513.07,410.40 515.31,216.09 517.56,95.18 519.80,106.61 522.04,97.77 524.29,106.42 526.53,93.78 528.77,137.99 531.02,123.86 533.26,240.44 535.50,148.07 537.75,121.83 539.99,163.06 542.23,155.83 544.48,160.10 546.72,191.83 548.96,189.42 551.21,148.88 553.45,384.48"/>
<polyline class="ln da" stroke="#d62728" points="102.55,304.49 104.79,172.00 107.03,107.00 109.27,89.00 111.52,105.00 113.76,112.00 116.00,104.00 118.25,95.30 120.49,113.00 122.73,127.00 124.98,134.00 127.22,133.00 129.46,130.00 131.71,132.00 133.95,134.50 136.19,142.00 138.44,190.00 140.68,142.00 142.92,138.00 145.17,126.00 147.41,113.00 149.65,133.00 151.90,139.00 154.14,139.00 156.38,137.00 158.63,135.00 160.87,132.80 163.11,148.00 165.36,158.00 167.60,175.00 169.84,236.15 172.09,196.00 174.33,232.36 176.57,274.03 178.82,300.55 181.06,346.00 183.30,380.85 185.55,277.82 187.79,292.97 190.03,400.55 192.28,338.43 194.52,264.56 196.76,259.26 199.01,348.66 201.25,311.91 203.49,376.31 205.74,410.40 207.98,406.61 210.22,391.46 212.47,368.73 214.71,338.43 216.95,289.18 219.20,218.73 221.44,363.05 223.68,353.58 225.93,391.46 228.17,409.64 230.41,399.04 232.66,380.85 234.90,402.82 237.14,410.40 239.39,395.25 241.63,364.94 243.87,221.00 246.12,135.60 248.36,140.00 250.60,121.60 252.85,146.00 255.09,162.00 257.33,166.00 259.58,178.00 261.82,167.00 264.06,160.00 266.31,154.40 268.55,160.00 270.79,148.00 273.04,146.00 275.28,142.00 277.52,134.80 279.77,146.00 282.01,145.00 284.25,143.40 286.50,146.00 288.74,150.00 290.98,146.00 293.23,141.00 295.47,133.30 297.71,131.00 299.96,134.00 302.20,140.30 304.44,146.00 306.69,146.00 308.93,140.00 311.17,129.40 313.42,146.60 315.66,168.00 317.90,155.00 320.15,135.00 322.39,112.00 324.63,98.10 326.88,125.00 329.12,198.27 331.36,283.50 333.60,300.55 335.85,239.94 338.09,190.70 340.33,74.80 342.58,99.00 344.82,112.00 347.06,122.50 349.31,113.00 351.55,237.29 353.79,107.00 356.04,97.00 358.28,93.60 360.52,100.00 362.77,79.50 365.01,181.00 367.25,410.40 369.50,410.40 371.74,410.40 373.98,370.63 376.23,74.00 378.47,99.00 380.71,107.00 382.96,106.00 385.20,251.30 387.44,314.18 389.69,247.52 391.93,194.48 394.17,200.00 396.42,138.00 398.66,105.60 400.90,104.80 403.15,118.00 405.39,121.00 407.63,122.50 409.88,124.40 412.12,137.00 414.36,151.00 416.61,149.00 418.85,146.00 421.09,131.40 423.34,142.00 425.58,141.50 427.82,130.60 430.07,117.30 432.31,127.00 434.55,131.00 436.80,135.00 439.04,95.50 441.28,123.00 443.53,150.00 445.77,161.00 448.01,183.00 450.26,249.00 452.50,213.42 454.74,198.27 456.99,200.00 459.23,148.00 461.47,195.00 463.72,334.64 465.96,400.93 468.20,150.00 470.45,152.00 472.69,145.60 474.93,198.27 477.18,311.91 479.42,349.79 481.66,385.02 483.91,327.06 486.15,232.00 488.39,348.66 490.64,334.64 492.88,394.11 495.12,232.00 497.37,150.00 499.61,150.00 501.85,270.24 504.10,410.40 506.34,410.40 508.58,410.40 510.83,410.40 513.07,410.40 515.31,215.00 517.56,87.50 519.80,100.00 522.04,115.60 524.29,100.00 526.53,86.00 528.77,115.60 531.02,137.50 533.26,242.59 535.50,145.00 537.75,86.00 539.99,140.00 542.23,150.00 544.48,172.00 546.72,185.00 548.96,185.00 551.21,145.60 553.45,383.13"/>
<polyline class="ln da" stroke="#9467bd" points="102.55,287.82 104.79,184.64 107.03,130.21 109.27,91.45 111.52,116.83 113.76,153.60 116.00,131.72 118.25,139.86 120.49,125.42 122.73,137.14 124.98,159.69 127.22,155.65 129.46,134.38 131.71,141.82 133.95,141.58 136.19,165.77 138.44,219.35 140.68,155.06 142.92,155.72 145.17,136.13 147.41,164.13 149.65,138.48 151.90,160.12 154.14,141.55 156.38,183.17 158.63,142.65 160.87,165.68 163.11,188.48 165.36,184.16 167.60,191.15 169.84,257.82 172.09,222.72 174.33,229.84 176.57,290.10 178.82,312.40 181.06,352.92 183.30,388.35 185.55,275.93 187.79,301.43 190.03,401.89 192.28,332.99 194.52,284.43 196.76,258.12 199.01,351.15 201.25,311.15 203.49,374.67 205.74,410.40 207.98,408.20 210.22,391.46 212.47,373.70 214.71,349.61 216.95,303.71 219.20,251.75 221.44,377.29 223.68,355.74 225.93,399.45 228.17,410.27 230.41,404.80 232.66,381.29 234.90,399.74 237.14,410.40 239.39,395.92 241.63,366.47 243.87,247.57 246.12,141.13 248.36,186.04 250.60,172.14 252.85,159.81 255.09,172.04 257.33,160.84 259.58,181.95 261.82,172.14 264.06,145.68 266.31,186.14 268.55,161.63 270.79,147.99 273.04,153.14 275.28,140.04 277.52,146.27 279.77,151.31 282.01,136.45 284.25,176.95 286.50,171.20 288.74,155.59 290.98,149.14 293.23,164.78 295.47,174.78 297.71,158.37 299.96,140.56 302.20,155.81 304.44,167.61 306.69,160.22 308.93,178.42 311.17,156.30 313.42,166.70 315.66,188.21 317.90,192.13 320.15,163.61 322.39,129.51 324.63,120.01 326.88,146.10 329.12,225.63 331.36,293.46 333.60,317.73 335.85,262.98 338.09,202.72 340.33,121.44 342.58,129.03 344.82,144.67 347.06,163.30 349.31,176.27 351.55,268.39 353.79,116.98 356.04,137.38 358.28,145.51 360.52,129.16 362.77,102.14 365.01,188.60 367.25,410.40 369.50,410.40 371.74,410.40 373.98,369.21 376.23,91.86 378.47,127.04 380.71,130.76 382.96,144.06 385.20,264.66 387.44,331.03 389.69,258.17 391.93,221.80 394.17,208.94 396.42,120.20 398.66,139.38 400.90,157.57 403.15,135.35 405.39,140.84 407.63,164.71 409.88,155.97 412.12,152.73 414.36,165.20 416.61,156.81 418.85,149.73 421.09,159.28 423.34,163.82 425.58,151.47 427.82,148.37 430.07,141.47 432.31,169.99 434.55,128.81 436.80,157.69 439.04,157.86 441.28,149.23 443.53,175.19 445.77,166.32 448.01,185.80 450.26,255.41 452.50,243.50 454.74,216.81 456.99,223.22 459.23,172.92 461.47,221.19 463.72,337.77 465.96,400.04 468.20,180.64 470.45,175.80 472.69,177.05 474.93,232.17 477.18,315.30 479.42,352.71 481.66,385.96 483.91,329.81 486.15,229.49 488.39,351.49 490.64,346.39 492.88,392.25 495.12,260.17 497.37,178.83 499.61,177.97 501.85,278.22 504.10,410.40 506.34,410.40 508.58,410.40 510.83,410.40 513.07,410.40 515.31,234.70 517.56,124.72 519.80,111.53 522.04,129.84 524.29,138.80 526.53,145.90 528.77,138.30 531.02,142.13 533.26,249.70 535.50,176.95 537.75,127.83 539.99,147.60 542.23,161.16 544.48,185.15 546.72,218.56 548.96,203.24 551.21,178.46 553.45,381.74"/>
<polyline class="ln da" stroke="#8c564b" points="102.55,311.54 104.79,212.54 107.03,164.79 109.27,152.76 111.52,146.25 113.76,134.85 116.00,143.47 118.25,159.18 120.49,159.96 122.73,164.06 124.98,174.14 127.22,174.96 129.46,147.17 131.71,160.50 133.95,164.94 136.19,179.02 138.44,213.17 140.68,173.98 142.92,150.97 145.17,160.12 147.41,177.76 149.65,171.07 151.90,179.72 154.14,172.04 156.38,185.38 158.63,173.43 160.87,195.76 163.11,181.50 165.36,164.50 167.60,201.26 169.84,261.55 172.09,223.19 174.33,269.79 176.57,290.61 178.82,318.79 181.06,352.80 183.30,383.99 185.55,292.04 187.79,311.07 190.03,405.52 192.28,357.58 194.52,284.14 196.76,296.15 199.01,359.33 201.25,321.01 203.49,385.59 205.74,410.40 207.98,406.47 210.22,397.28 212.47,376.85 214.71,352.57 216.95,306.00 219.20,251.72 221.44,369.12 223.68,372.69 225.93,397.40 228.17,409.83 230.41,400.05 232.66,380.95 234.90,401.96 237.14,410.40 239.39,400.46 241.63,379.25 243.87,234.58 246.12,172.59 248.36,206.51 250.60,176.42 252.85,205.27 255.09,190.84 257.33,196.13 259.58,193.37 261.82,188.17 264.06,178.83 266.31,185.68 268.55,168.87 270.79,166.33 273.04,187.54 275.28,175.60 277.52,176.66 279.77,168.23 282.01,168.89 284.25,205.35 286.50,199.69 288.74,168.99 290.98,170.92 293.23,168.22 295.47,174.87 297.71,161.90 299.96,162.54 302.20,162.71 304.44,172.85 306.69,172.43 308.93,185.14 311.17,186.36 313.42,190.33 315.66,219.42 317.90,193.42 320.15,170.29 322.39,132.97 324.63,140.24 326.88,156.93 329.12,216.51 331.36,304.48 333.60,326.37 335.85,277.70 338.09,214.21 340.33,128.67 342.58,139.90 344.82,131.48 347.06,169.43 349.31,200.17 351.55,265.85 353.79,156.80 356.04,157.22 358.28,135.39 360.52,135.06 362.77,145.51 365.01,230.92 367.25,410.40 369.50,410.40 371.74,410.40 373.98,376.31 376.23,132.89 378.47,147.00 380.71,138.12 382.96,141.76 385.20,278.47 387.44,327.90 389.69,273.27 391.93,217.50 394.17,212.14 396.42,164.84 398.66,151.92 400.90,155.72 403.15,164.27 405.39,164.41 407.63,156.10 409.88,162.30 412.12,176.63 414.36,176.93 416.61,173.65 418.85,185.21 421.09,158.58 423.34,193.20 425.58,175.67 427.82,194.23 430.07,142.57 432.31,171.64 434.55,148.36 436.80,187.87 439.04,154.45 441.28,169.79 443.53,171.78 445.77,192.68 448.01,228.14 450.26,273.41 452.50,231.06 454.74,237.10 456.99,206.72 459.23,184.67 461.47,238.34 463.72,343.22 465.96,402.86 468.20,188.47 470.45,197.63 472.69,175.89 474.93,215.87 477.18,322.97 479.42,362.15 481.66,387.68 483.91,352.43 486.15,249.99 488.39,361.09 490.64,354.56 492.88,397.74 495.12,257.84 497.37,183.62 499.61,167.54 501.85,295.52 504.10,410.40 506.34,410.40 508.58,410.40 510.83,410.40 513.07,410.40 515.31,242.94 517.56,133.42 519.80,146.17 522.04,143.96 524.29,133.63 526.53,166.01 528.77,151.81 531.02,184.13 533.26,262.41 535.50,179.53 537.75,146.43 539.99,157.80 542.23,186.80 544.48,201.12 546.72,205.07 548.96,220.04 551.21,186.93 553.45,387.84"/>
</g>
<line class="tk" x1="125.5" y1="428.0" x2="125.5" y2="433.0"/>
<text x="124.90" y="447.60" font-size="14.30" text-anchor="middle" textLength="42.20" lengthAdjust="spacingAndGlyphs">52500</text>
<line class="tk" x1="181.5" y1="428.0" x2="181.5" y2="433.0"/>
<text x="180.90" y="447.60" font-size="14.30" text-anchor="middle" textLength="42.20" lengthAdjust="spacingAndGlyphs">55000</text>
<line class="tk" x1="237.5" y1="428.0" x2="237.5" y2="433.0"/>
<text x="236.90" y="447.60" font-size="14.30" text-anchor="middle" textLength="42.20" lengthAdjust="spacingAndGlyphs">57500</text>
<line class="tk" x1="293.5" y1="428.0" x2="293.5" y2="433.0"/>
<text x="292.90" y="447.60" font-size="14.30" text-anchor="middle" textLength="42.20" lengthAdjust="spacingAndGlyphs">60000</text>
<line class="tk" x1="349.5" y1="428.0" x2="349.5" y2="433.0"/>
<text x="348.90" y="447.60" font-size="14.30" text-anchor="middle" textLength="42.20" lengthAdjust="spacingAndGlyphs">62500</text>
<line class="tk" x1="405.5" y1="428.0" x2="405.5" y2="433.0"/>
<text x="404.90" y="447.60" font-size="14.30" text-anchor="middle" textLength="42.20" lengthAdjust="spacingAndGlyphs">65000</text>
<line class="tk" x1="461.5" y1="428.0" x2="461.5" y2="433.0"/>
<text x="460.90" y="447.60" font-size="14.30" text-anchor="middle" textLength="42.20" lengthAdjust="spacingAndGlyphs">67500</text>
<line class="tk" x1="517.5" y1="428.0" x2="517.5" y2="433.0"/>
<text x="516.90" y="447.60" font-size="14.30" text-anchor="middle" textLength="42.20" lengthAdjust="spacingAndGlyphs">70000</text>
<line class="tk" x1="573.5" y1="428.0" x2="573.5" y2="433.0"/>
<text x="572.90" y="447.60" font-size="14.30" text-anchor="middle" textLength="42.20" lengthAdjust="spacingAndGlyphs">72500</text>
<line class="tk" x1="80.0" y1="410.5" x2="75.0" y2="410.5"/>
<text x="70.30" y="415.80" font-size="14.30" text-anchor="end" textLength="8.80" lengthAdjust="spacingAndGlyphs">0</text>
<line class="tk" x1="80.0" y1="334.5" x2="75.0" y2="334.5"/>
<text x="70.30" y="340.04" font-size="14.30" text-anchor="end" textLength="8.80" lengthAdjust="spacingAndGlyphs">2</text>
<line class="tk" x1="80.0" y1="258.5" x2="75.0" y2="258.5"/>
<text x="70.30" y="264.28" font-size="14.30" text-anchor="end" textLength="8.80" lengthAdjust="spacingAndGlyphs">4</text>
<line class="tk" x1="80.0" y1="183.5" x2="75.0" y2="183.5"/>
<text x="70.30" y="188.52" font-size="14.30" text-anchor="end" textLength="8.80" lengthAdjust="spacingAndGlyphs">6</text>
<line class="tk" x1="80.0" y1="107.5" x2="75.0" y2="107.5"/>
<text x="70.30" y="112.76" font-size="14.30" text-anchor="end" textLength="8.80" lengthAdjust="spacingAndGlyphs">8</text>
<text x="576.00" y="465.70" font-size="14.30" text-anchor="end" textLength="68.60" lengthAdjust="spacingAndGlyphs">+4.894e8</text>
<rect class="tk" x="80.5" y="58.5" width="496" height="369"/>
<rect x="86.5" y="63.6" width="252" height="78.5" rx="2.2" ry="2.2" fill="#ffffff" fill-opacity="0.5" stroke="#cccccc" stroke-opacity="0.5" stroke-width="1.111"/>
<line class="ln so" stroke="#1f77b4" x1="90.41" y1="73.96" x2="113.86" y2="73.96"/>
<text x="124.11" y="77.86" font-size="12.10" text-anchor="start" textLength="7.37" lengthAdjust="spacingAndGlyphs">0</text>
<line class="ln so" stroke="#ff7f0e" x1="90.41" y1="92.86" x2="113.86" y2="92.86"/>
<text x="124.11" y="96.61" font-size="12.10" text-anchor="start" textLength="7.37" lengthAdjust="spacingAndGlyphs">1</text>
<line class="ln so" stroke="#2ca02c" x1="90.41" y1="111.76" x2="113.86" y2="111.76"/>
<text x="124.11" y="115.36" font-size="12.10" text-anchor="start" textLength="7.37" lengthAdjust="spacingAndGlyphs">2</text>
<line class="ln so" stroke="#d62728" x1="90.41" y1="130.66" x2="113.86" y2="130.66"/>
<text x="124.11" y="134.11" font-size="12.10" text-anchor="start" textLength="7.37" lengthAdjust="spacingAndGlyphs">3</text>
<line class="ln so" stroke="#9467bd" x1="153.45" y1="73.96" x2="176.90" y2="73.96"/>
<text x="186.45" y="77.86" font-size="12.10" text-anchor="start" textLength="7.37" lengthAdjust="spacingAndGlyphs">4</text>
<line class="ln so" stroke="#8c564b" x1="153.45" y1="92.86" x2="176.90" y2="92.86"/>
<text x="186.45" y="96.61" font-size="12.10" text-anchor="start" textLength="7.37" lengthAdjust="spacingAndGlyphs">5</text>
<line class="ln so" stroke="#e377c2" x1="153.45" y1="111.76" x2="176.90" y2="111.76"/>
<text x="186.45" y="115.36" font-size="12.10" text-anchor="start" textLength="7.37" lengthAdjust="spacingAndGlyphs">6</text>
<line class="ln so" stroke="#7f7f7f" x1="153.45" y1="130.66" x2="176.90" y2="130.66"/>
<text x="186.45" y="134.11" font-size="12.10" text-anchor="start" textLength="7.37" lengthAdjust="spacingAndGlyphs">7</text>
<line class="ln da" stroke="#bcbd22" x1="216.48" y1="73.96" x2="239.93" y2="73.96"/>
<text x="249.08" y="77.86" font-size="12.10" text-anchor="start" textLength="7.37" lengthAdjust="spacingAndGlyphs">8</text>
<line class="ln da" stroke="#17becf" x1="216.48" y1="92.86" x2="239.93" y2="92.86"/>
<text x="249.08" y="96.61" font-size="12.10" text-anchor="start" textLength="7.37" lengthAdjust="spacingAndGlyphs">9</text>
<line class="ln da" stroke="#1f77b4" x1="216.48" y1="111.76" x2="239.93" y2="111.76"/>
<text x="249.08" y="115.36" font-size="12.10" text-anchor="start" textLength="13.70" lengthAdjust="spacingAndGlyphs">10</text>
<line class="ln da" stroke="#ff7f0e" x1="216.48" y1="130.66" x2="239.93" y2="130.66"/>
<text x="249.08" y="134.11" font-size="12.10" text-anchor="start" textLength="13.70" lengthAdjust="spacingAndGlyphs">11</text>
<line class="ln da" stroke="#2ca02c" x1="287.01" y1="73.96" x2="310.46" y2="73.96"/>
<text x="318.91" y="77.86" font-size="12.10" text-anchor="start" textLength="13.70" lengthAdjust="spacingAndGlyphs">12</text>
<line class="ln da" stroke="#d62728" x1="287.01" y1="92.86" x2="310.46" y2="92.86"/>
<text x="318.91" y="96.61" font-size="12.10" text-anchor="start" textLength="13.70" lengthAdjust="spacingAndGlyphs">13</text>
<line class="ln da" stroke="#9467bd" x1="287.01" y1="111.76" x2="310.46" y2="111.76"/>
<text x="318.91" y="115.36" font-size="12.10" text-anchor="start" textLength="13.70" lengthAdjust="spacingAndGlyphs">14</text>
<line class="ln da" stroke="#8c564b" x1="287.01" y1="130.66" x2="310.46" y2="130.66"/>
<text x="318.91" y="134.11" font-size="12.10" text-anchor="start" textLength="13.70" lengthAdjust="spacingAndGlyphs">15</text>
</svg>
</body></html>
